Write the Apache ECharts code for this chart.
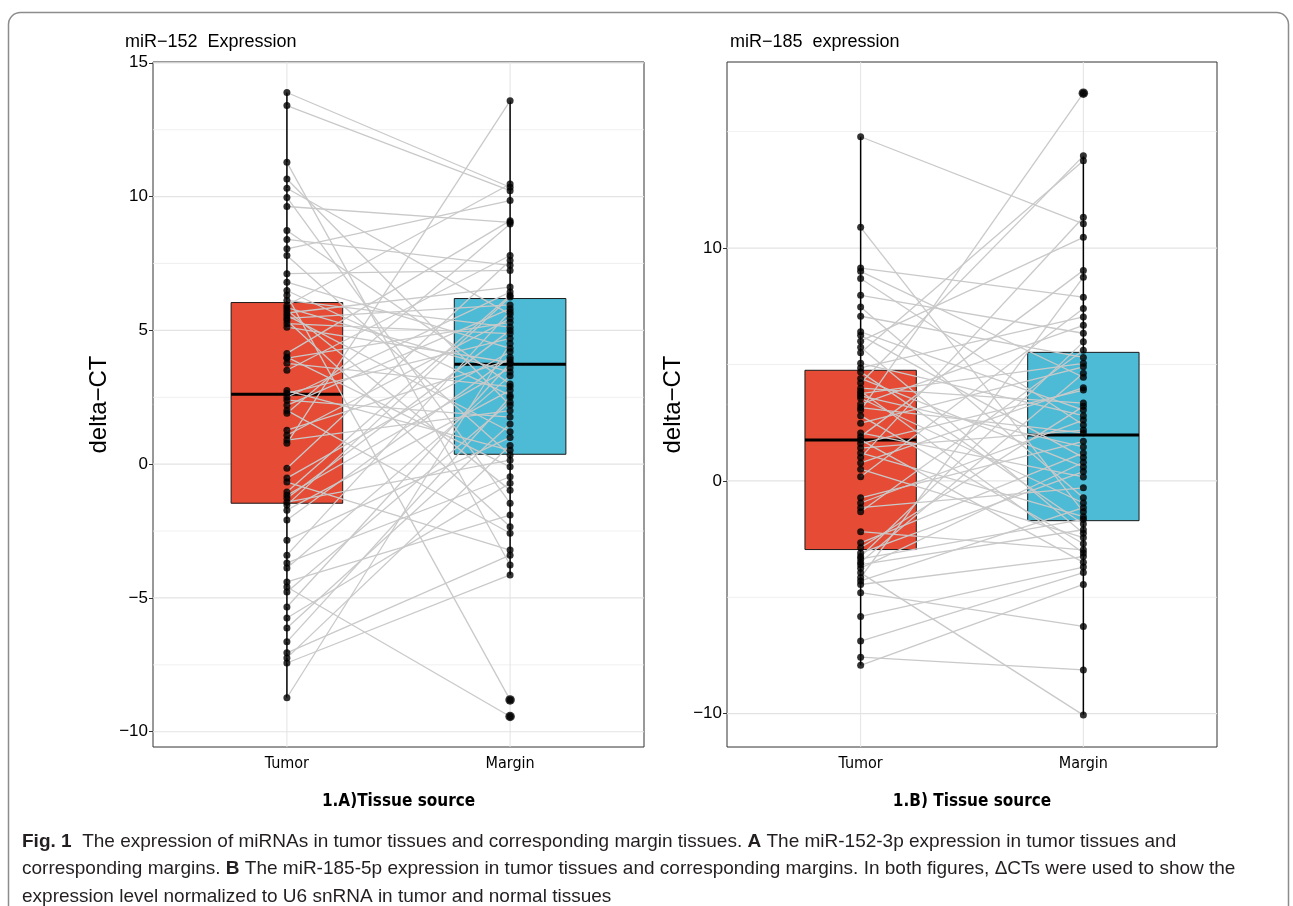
<!DOCTYPE html>
<html><head><meta charset="utf-8">
<script src="https://cdn.jsdelivr.net/npm/echarts@6/dist/echarts.min.js"></script>
<style>html,body{margin:0;padding:0;background:#fff}#c{width:1293px;height:906px}</style>
</head><body><div id="c"></div>
<script>
// ---------- data ----------
const categories = ['Tumor', 'Margin'];

// Panel A: miR-152 (paired values, tumor[i] <-> margin[i])
const tumorA = [13.89,13.40,11.28,10.66,10.31,9.97,9.63,8.73,8.40,8.05,7.80,7.12,6.80,6.49,6.31,6.12,
  5.93,5.85,5.75,5.65,5.56,5.45,5.37,5.25,5.12,4.14,4.00,3.96,3.77,3.51,2.75,2.65,
  2.50,2.39,2.20,2.01,1.90,1.27,1.08,0.90,0.78,-0.15,-0.52,-0.67,-1.04,-1.16,-1.27,-1.42,
  -1.53,-1.72,-2.09,-2.84,-3.40,-3.69,-3.88,-4.40,-4.59,-4.78,-5.34,-5.75,-6.12,-6.64,-7.05,-7.24,-7.43,-8.73];
const marginA = [10.35,10.22,-3.77,2.20,5.60,-1.46,9.04,3.00,7.43,9.85,0.34,7.24,4.33,2.57,-8.81,5.12,
  10.47,3.44,-0.97,6.62,1.21,5.95,-2.34,4.88,3.80,9.10,-0.10,5.30,2.90,7.80,0.52,4.70,
  6.43,1.76,5.81,-2.58,8.98,3.90,5.44,2.00,13.58,7.61,4.20,-3.21,6.30,3.60,5.00,0.15,
  6.25,2.76,4.00,1.00,5.70,-0.47,3.30,-1.90,-9.43,2.31,3.76,-0.71,1.50,2.50,-3.40,0.70,-4.14,4.51];
// box stats: [lower whisker, Q1, median, Q3, upper whisker]
const boxTumorA  = [-8.73, -1.46, 2.61, 6.04, 13.89];
const boxMarginA = [-4.14, 0.37, 3.73, 6.19, 13.58];
const outlierMarginA = [-8.81, -9.43];

// Panel B: miR-185
const tumorB = [14.78,10.89,9.14,9.00,8.69,7.97,7.47,7.07,6.40,6.25,6.00,5.74,5.50,5.05,4.85,
  4.68,4.40,4.20,3.98,3.85,3.75,3.65,3.55,3.30,3.15,3.04,2.80,2.48,2.06,1.90,
  1.76,1.60,1.41,1.20,1.00,0.77,0.50,0.18,-0.73,-0.95,-1.15,-1.33,-2.18,-2.66,-2.87,
  -3.10,-3.25,-3.35,-3.50,-3.60,-3.75,-3.95,-4.15,-4.30,-4.45,-4.80,-5.82,-6.88,-7.57,-7.92];
const marginB = [11.04,-1.33,7.89,4.45,2.40,6.34,-0.73,5.30,3.04,1.00,10.46,-2.25,13.75,2.80,7.04,
  -1.85,0.60,13.96,3.34,-3.10,5.05,1.46,-0.95,6.68,2.06,16.65,-2.70,4.90,0.17,9.04,
  -3.50,3.90,2.18,-1.54,11.32,4.00,-2.44,7.40,1.70,2.61,-0.30,5.61,-2.96,1.20,3.20,
  0.40,5.97,-1.65,4.62,-2.10,0.80,-10.06,8.75,-1.15,-3.25,-6.25,-3.70,-3.94,-8.12,-4.45];
const boxTumorB  = [-7.92, -2.95, 1.76, 4.75, 14.78];
const boxMarginB = [-10.06, -1.71, 1.97, 5.52, 13.96];
const outlierMarginB = [16.65];

// axes
const yTicksA = [-10, -5, 0, 5, 10, 15];
const yMinorA = [-7.5, -2.5, 2.5, 7.5, 12.5];
const yRangeA = [-10.57, 15.03];
const yTicksB = [-10, 0, 10];
const yMinorB = [-5, 5, 15];
const yRangeB = [-11.43, 17.99];
const xRange = [0.4, 2.6];
const catPos = [1, 2];

const titles = ['miR\u2212152  Expression', 'miR\u2212185  expression'];
const xNames = ['1.A)Tissue source', '1.B) Tissue source'];
const yName = 'delta\u2212CT';
const fillColors = ['#E64B35', '#4DBBD5'];

// ---------- chart ----------
const FONT = '"Liberation Sans", Arial, sans-serif';
const NARROW = '"DejaVu Sans Condensed", "Liberation Sans", sans-serif';
const BOX_W = 0.5;

const chart = echarts.init(document.getElementById('c'), null, {renderer: 'canvas'});

function hGrid(params, api) {
  const cs = params.coordSys;
  const y = api.coord([api.value(0), api.value(1)])[1];
  return {type: 'line', silent: true,
    shape: {x1: cs.x, y1: y, x2: cs.x + cs.width, y2: y},
    style: {stroke: api.value(2) > 0.9 ? '#e3e3e3' : '#ececec', lineWidth: api.value(2)}};
}
function vGrid(params, api) {
  const cs = params.coordSys;
  const x = api.coord([api.value(0), api.value(1)])[0];
  return {type: 'line', silent: true,
    shape: {x1: x, y1: cs.y, x2: x, y2: cs.y + cs.height},
    style: {stroke: '#e3e3e3', lineWidth: 1}};
}
function boxItem(params, api) {
  const x = api.value(0);
  const mn = api.value(1), q1 = api.value(2), md = api.value(3), q3 = api.value(4), mx = api.value(5);
  const h = BOX_W / 2;
  const tl = api.coord([x - h, q3]), br = api.coord([x + h, q1]);
  const pMax = api.coord([x, mx]), pMin = api.coord([x, mn]);
  const pQ3 = api.coord([x, q3]), pQ1 = api.coord([x, q1]);
  const mL = api.coord([x - h, md]), mR = api.coord([x + h, md]);
  return {type: 'group', children: [
    {type: 'line', shape: {x1: pMax[0], y1: pMax[1], x2: pQ3[0], y2: pQ3[1]}, style: {stroke: '#000', lineWidth: 1.5}},
    {type: 'line', shape: {x1: pQ1[0], y1: pQ1[1], x2: pMin[0], y2: pMin[1]}, style: {stroke: '#000', lineWidth: 1.5}},
    {type: 'rect', shape: {x: tl[0], y: tl[1], width: br[0] - tl[0], height: br[1] - tl[1]},
      style: {fill: fillColors[params.dataIndex], stroke: '#1a1a1a', lineWidth: 1}},
    {type: 'line', shape: {x1: mL[0], y1: mL[1], x2: mR[0], y2: mR[1]}, style: {stroke: '#000', lineWidth: 3}}
  ]};
}
function pairItem(params, api) {
  const a = api.coord([api.value(0), api.value(1)]);
  const b = api.coord([api.value(2), api.value(3)]);
  return {type: 'line', silent: true,
    shape: {x1: a[0], y1: a[1], x2: b[0], y2: b[1]},
    style: {stroke: '#c9c9c9', lineWidth: 1.3}};
}

const panels = [
  {tumor: tumorA, margin: marginA, boxT: boxTumorA, boxM: boxMarginA, out: outlierMarginA,
   ticks: yTicksA, minor: yMinorA, range: yRangeA},
  {tumor: tumorB, margin: marginB, boxT: boxTumorB, boxM: boxMarginB, out: outlierMarginB,
   ticks: yTicksB, minor: yMinorB, range: yRangeB}
];

const grids = [
  {left: 153, top: 62, width: 491, height: 685},
  {left: 727, top: 62, width: 490, height: 685}
];

const xAxes = [], yAxes = [], series = [];
panels.forEach((p, i) => {
  xAxes.push({
    type: 'value', gridIndex: i, min: xRange[0], max: xRange[1],
    axisLine: {show: false},
    axisTick: {show: true, customValues: catPos, length: 4, lineStyle: {color: '#333', width: 1}},
    axisLabel: {customValues: catPos, formatter: v => categories[Math.round(v) - 1],
      fontSize: 16, color: '#000', margin: 9, fontFamily: NARROW},
    splitLine: {show: false},
    name: xNames[i], nameLocation: 'middle', nameGap: 46,
    nameTextStyle: {fontFamily: NARROW, fontWeight: 'bold', fontSize: 17, color: '#000'}
  });
  yAxes.push({
    type: 'value', gridIndex: i, min: p.range[0], max: p.range[1],
    axisLine: {show: false},
    axisTick: {show: true, customValues: p.ticks, length: 4, lineStyle: {color: '#333', width: 1}},
    axisLabel: {customValues: p.ticks, fontSize: 17, color: '#000', margin: 5, fontFamily: FONT,
      formatter: v => String(v).replace('-', '\u2212')},
    splitLine: {show: false},
    name: yName, nameLocation: 'middle', nameGap: 42,
    nameTextStyle: {fontFamily: FONT, fontSize: 24, color: '#000'}
  });
  const hData = p.ticks.map(v => [1, v, 1.2]).concat(p.minor.map(v => [1, v, 0.8]));
  series.push({type: 'custom', xAxisIndex: i, yAxisIndex: i, renderItem: hGrid, data: hData,
    encode: {x: 0, y: 1}, z: 0, silent: true, animation: false});
  series.push({type: 'custom', xAxisIndex: i, yAxisIndex: i, renderItem: vGrid,
    data: catPos.map(c => [c, 0]), encode: {x: 0, y: 1}, z: 0, silent: true, animation: false});
  series.push({type: 'custom', xAxisIndex: i, yAxisIndex: i, renderItem: boxItem,
    data: [[catPos[0]].concat(p.boxT), [catPos[1]].concat(p.boxM)],
    encode: {x: 0, y: [1, 2, 3, 4, 5]}, z: 1, animation: false});
  series.push({type: 'custom', xAxisIndex: i, yAxisIndex: i, renderItem: pairItem,
    data: p.tumor.map((t, k) => [catPos[0], t, catPos[1], p.margin[k]]),
    encode: {x: [0, 2], y: [1, 3]}, z: 2, silent: true, animation: false});
  series.push({type: 'scatter', xAxisIndex: i, yAxisIndex: i, symbol: 'circle', symbolSize: 7,
    itemStyle: {color: '#000'}, z: 3, animation: false, silent: true,
    data: p.tumor.map(v => [catPos[0], v]).concat(p.margin.map(v => [catPos[1], v]))});
  series.push({type: 'scatter', xAxisIndex: i, yAxisIndex: i, symbol: 'circle', symbolSize: 9.5,
    itemStyle: {color: '#000'}, z: 3, animation: false, silent: true,
    data: p.out.map(v => [catPos[1], v])});
});

const CAP_SIZE = 19;
const captionRich = {
  b: {fontFamily: FONT, fontSize: CAP_SIZE, fontWeight: 'bold', fill: '#231f20', color: '#231f20'},
  n: {fontFamily: FONT, fontSize: CAP_SIZE, fill: '#231f20', color: '#231f20'}
};
const captionLines = [
  '{b|Fig. 1}{n|  The expression of miRNAs in tumor tissues and corresponding margin tissues. }{b|A}{n| The miR-152-3p expression in tumor tissues and}',
  '{n|corresponding margins. }{b|B}{n| The miR-185-5p expression in tumor tissues and corresponding margins. In both figures, \u0394CTs were used to show the}',
  '{n|expression level normalized to U6 snRNA in tumor and normal tissues}'
];

chart.setOption({
  backgroundColor: '#fff',
  animation: false,
  title: [
    {text: titles[0], left: 120, top: 28, textStyle: {fontFamily: FONT, fontSize: 18, fontWeight: 'normal', color: '#000'}},
    {text: titles[1], left: 725, top: 28, textStyle: {fontFamily: FONT, fontSize: 18, fontWeight: 'normal', color: '#000'}}
  ],
  grid: grids.map(g => Object.assign({show: true, borderColor: '#333', borderWidth: 1, backgroundColor: 'transparent', containLabel: false}, g)),
  xAxis: xAxes,
  yAxis: yAxes,
  series: series,
  graphic: [
    {type: 'rect', silent: true, z: -10,
      shape: {x: 8.5, y: 12.5, width: 1280, height: 1000, r: 12},
      style: {fill: 'none', stroke: '#8c8c8c', lineWidth: 1.5}}
  ].concat(captionLines.map((t, k) => ({
    type: 'text', left: 22, top: 832 + k * 27.5, silent: true,
    style: {text: t, rich: captionRich, fontFamily: FONT, fontSize: CAP_SIZE, fill: '#231f20'}
  })))
});
</script>
</body></html>
